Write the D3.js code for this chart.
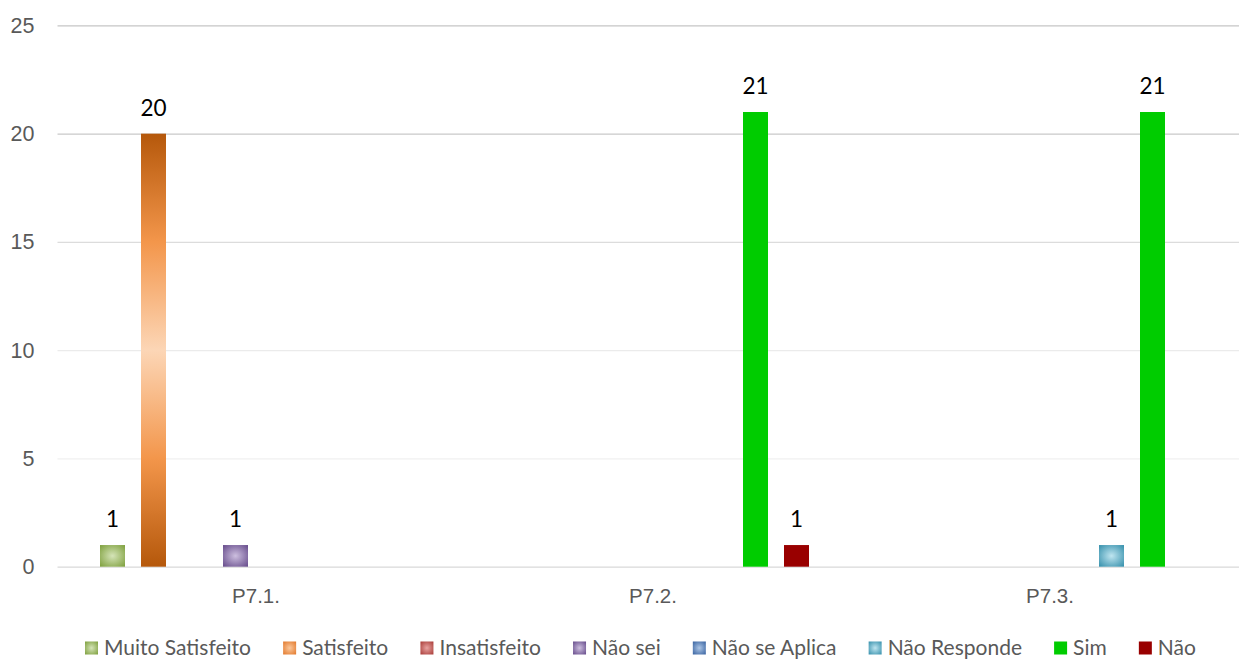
<!DOCTYPE html>
<html>
<head>
<meta charset="utf-8">
<script src="https://cdn.jsdelivr.net/npm/d3@7"></script>
<style>
  html, body { margin: 0; padding: 0; background: #fff; }
  svg { display: block; font-family: Lato, "Open Sans", sans-serif; }
</style>
</head>
<body>
<svg id="chart" width="1239" height="661"></svg>
<script>
// Question groups on the x axis
const categories = ["P7.1.", "P7.2.", "P7.3."];
// Answer series, in legend order
const seriesNames = ["Muito Satisfeito", "Satisfeito", "Insatisfeito", "Não sei", "Não se Aplica", "Não Responde", "Sim", "Não"];
// Counts per series, one value per category
const muitoSatisfeito = [1, 0, 0];
const satisfeito      = [20, 0, 0];
const insatisfeito    = [0, 0, 0];
const naoSei          = [1, 0, 0];
const naoSeAplica     = [0, 0, 0];
const naoResponde     = [0, 0, 1];
const sim             = [0, 21, 21];
const nao             = [0, 1, 0];
const yTicks = [0, 5, 10, 15, 20, 25];

const seriesValues = [muitoSatisfeito, satisfeito, insatisfeito, naoSei, naoSeAplica, naoResponde, sim, nao];

const svg = d3.select("#chart");
const defs = svg.append("defs");

// Fill styles: radial "gem" shading, vertical orange gradient, and two flat colours
const radial = (id, light, base) => {
  const g = defs.append("radialGradient").attr("id", id)
    .attr("cx", "50%").attr("cy", "50%").attr("r", "70%");
  g.append("stop").attr("offset", "0%").attr("stop-color", light);
  g.append("stop").attr("offset", "100%").attr("stop-color", base);
  return `url(#${id})`;
};
const orange = defs.append("linearGradient").attr("id", "g-satisfeito")
  .attr("x1", 0).attr("y1", 0).attr("x2", 0).attr("y2", 1);
[["0%", "#b5580b"], ["25%", "#f3964b"], ["50%", "#fcd6b6"], ["75%", "#f3964b"], ["100%", "#b5580b"]]
  .forEach(([o, c]) => orange.append("stop").attr("offset", o).attr("stop-color", c));

const fills = [
  radial("g-ms", "#d5e4b8", "#7d9f3c"),
  "url(#g-satisfeito)",
  radial("g-ins", "#e8a3a1", "#a83a36"),
  radial("g-ns", "#cdbfdf", "#654a8a"),
  radial("g-nsa", "#adc6e6", "#3762a0"),
  radial("g-nr", "#bfe5f0", "#348fab"),
  "#00cc00",
  "#990000"
];
// legend swatches: same fills, but the orange swatch gets the radial look
const legendFills = fills.slice();
legendFills[1] = radial("g-sat-key", "#fbc89c", "#e2782a");

const x0 = d3.scaleBand().domain(categories).range([57.5, 1248.5]).paddingInner(0).paddingOuter(0);
const bw = x0.bandwidth();
const groupW = 328;
const x1 = d3.scaleBand().domain(seriesNames)
  .range([(bw - groupW) / 2, (bw + groupW) / 2])
  .paddingInner(16 / 41).paddingOuter(8 / 41);
const y = d3.scaleLinear().domain([0, 25]).range([566.7, 25.4]);

// Horizontal gridlines and y tick labels
const gridColors = ["#d9d9d9", "#f0f0f0", "#ebebeb", "#dcdcdc", "#c9c9c9", "#c6c6c6"];
const yAxis = svg.append("g").attr("transform", "translate(57.5,0)")
  .call(d3.axisLeft(y).tickValues(yTicks).tickSize(-1190).tickPadding(23).tickFormat(d3.format("d")));
yAxis.select(".domain").remove();
yAxis.selectAll(".tick line").attr("stroke", (d, i) => gridColors[i]).attr("stroke-width", 1.3);
yAxis.selectAll(".tick text").attr("fill", "#595959").attr("font-size", 21.5);

// Category labels
const xAxis = svg.append("g").attr("transform", "translate(0,566.7)")
  .call(d3.axisBottom(x0).tickSize(0).tickPadding(22));
xAxis.select(".domain").remove();
xAxis.selectAll(".tick text").attr("fill", "#595959").attr("font-size", 20.5);

// Bars
const rows = [];
categories.forEach((c, ci) => seriesNames.forEach((s, si) => {
  rows.push({ cat: c, series: s, si, value: seriesValues[si][ci] });
}));
const shown = rows.filter(r => r.value > 0);

svg.append("g").selectAll("rect").data(shown).join("rect")
  .attr("x", d => x0(d.cat) + x1(d.series))
  .attr("y", d => y(d.value))
  .attr("width", x1.bandwidth())
  .attr("height", d => y(0) - y(d.value))
  .attr("fill", d => fills[d.si]);

// Value labels
svg.append("g").selectAll("text").data(shown).join("text")
  .attr("x", d => x0(d.cat) + x1(d.series) + x1.bandwidth() / 2)
  .attr("y", d => y(d.value) - 18)
  .attr("text-anchor", "middle")
  .attr("font-size", 22.5)
  .attr("fill", "#000")
  .text(d => d.value);

// Legend: spread items so the row runs from the first swatch to the last label
const legend = svg.append("g");
const items = legend.selectAll("g").data(seriesNames).join("g");
items.append("rect").attr("width", 13).attr("height", 13).attr("y", -6.5)
  .attr("fill", (d, i) => legendFills[i]);
items.append("text").attr("x", 19).attr("y", 0).attr("dy", "0.35em")
  .attr("font-size", 21).attr("fill", "#595959").text(d => d);
const widths = [];
items.each(function () { widths.push(this.getBBox().width); });
const left = 85, right = 1196;
const gap = (right - left - d3.sum(widths)) / (widths.length - 1);
let cx = left;
items.attr("transform", (d, i) => {
  const t = `translate(${cx},648)`;
  cx += widths[i] + gap;
  return t;
});
</script>
</body>
</html>
